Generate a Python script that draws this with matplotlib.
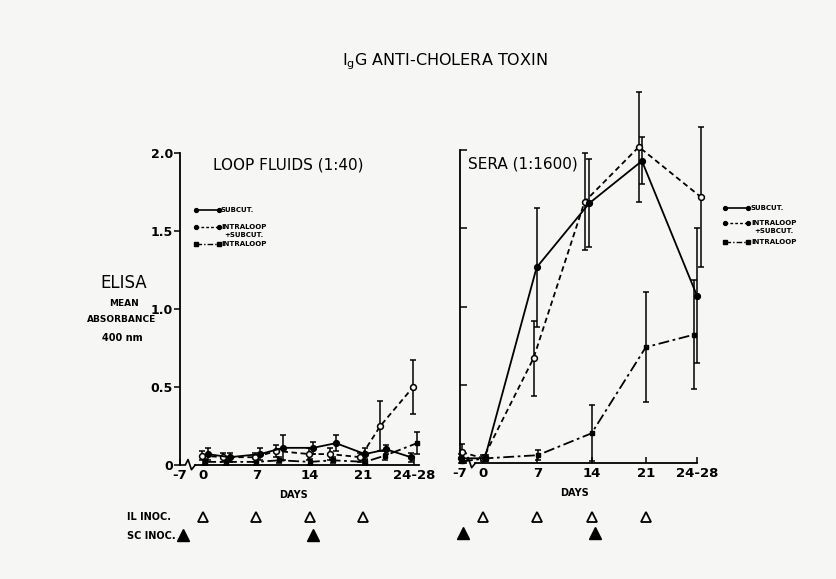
import numpy as np
import matplotlib
matplotlib.use("Agg")
import matplotlib.pyplot as plt
from matplotlib.lines import Line2D

plt.rcParams['font.family'] = ['DejaVu Sans']

# ---------------- data ----------------
tick_days = [-7, 0, 7, 14, 21, 27.6]
tick_labels = ["-7", "0", "7", "14", "21", "24-28"]
y_ticks = [0, 0.5, 1.0, 1.5, 2.0]
y_tick_labels = ["0", "0.5", "1.0", "1.5", "2.0"]

# Loop fluids (1:40)
loop_sc_days = [0.6, 3.5, 7.5, 10.5, 14.4, 17.4, 21.2, 24.0, 27.2]
loop_sc_vals = [0.07, 0.05, 0.07, 0.11, 0.11, 0.14, 0.07, 0.10, 0.05]
loop_sc_err = [0.04, 0.03, 0.04, 0.08, 0.04, 0.05, 0.04, 0.03, 0.03]

loop_ilsc_days = [-0.2, 2.6, 6.8, 9.6, 13.9, 16.6, 20.6, 23.2, 27.5]
loop_ilsc_vals = [0.06, 0.05, 0.05, 0.09, 0.07, 0.07, 0.05, 0.25, 0.50]
loop_ilsc_err = [0.03, 0.03, 0.03, 0.04, 0.04, 0.04, 0.03, 0.16, 0.17]

loop_il_days = [0.3, 3.0, 7.0, 10.0, 14.0, 17.0, 21.2, 23.8, 28.0]
loop_il_vals = [0.02, 0.02, 0.02, 0.03, 0.02, 0.03, 0.02, 0.06, 0.14]
loop_il_err = [0.02, 0.02, 0.02, 0.02, 0.02, 0.02, 0.02, 0.03, 0.07]

# Sera (1:1600)
sera_sc_days = [-6.6, 0.2, 6.9, 13.7, 20.5, 27.6]
sera_sc_vals = [0.03, 0.03, 1.25, 1.66, 1.93, 1.07]
sera_sc_err = [0.03, 0.02, 0.38, 0.28, 0.15, 0.43]

sera_ilsc_days = [-6.5, 0.0, 6.5, 13.1, 20.1, 28.1]
sera_ilsc_vals = [0.07, 0.03, 0.67, 1.67, 2.02, 1.70]
sera_ilsc_err = [0.05, 0.02, 0.24, 0.31, 0.35, 0.45]

sera_il_days = [-6.4, 0.4, 7.05, 14.0, 21.0, 27.2]
sera_il_vals = [0.01, 0.03, 0.05, 0.19, 0.74, 0.82]
sera_il_err = [0.01, 0.02, 0.03, 0.18, 0.35, 0.35]

il_inoc_days = [0, 7, 14, 21]
sc_inoc_days = [-7, 14]

BG = '#f6f6f4'
W, H = 837, 579


def xpos(d):
    d = np.asarray(d, dtype=float)
    return np.where(d < 0, -3 + (d + 7) * 3.0 / 7.0, d)


def fx(x):
    return x / W


def fy(y):
    return 1 - y / H


fig = plt.figure(figsize=(W / 100, H / 100), dpi=100, facecolor=BG)
ax1 = fig.add_axes([fx(180), (H - 465) / H, 237 / W, 312 / H])
ax2 = fig.add_axes([fx(460), (H - 463) / H, 240 / W, 313 / H])

styles = {
    'sc': dict(ls='-', marker='o', mfc='black', mec='black', ms=4.2),
    'ilsc': dict(ls=(0, (3, 2)), marker='o', mfc=BG, mec='black', ms=4.2, mew=1.1),
    'il': dict(ls=(0, (6, 2, 1.5, 2)), marker='s', mfc='black', mec='black', ms=3.2),
}


def draw_series(ax, days, vals, errs, key):
    st = styles[key]
    ax.errorbar(xpos(days), vals, yerr=errs, color='black', lw=1.3,
                capsize=2.2, elinewidth=1.1, capthick=1.1, clip_on=False,
                **st)


for ax in (ax1, ax2):
    ax.set_facecolor(BG)
    ax.set_xlim(-3, 28)
    ax.set_ylim(0, 2.0)
    for s in ('top', 'right'):
        ax.spines[s].set_visible(False)
    ax.spines['left'].set_linewidth(1.3)
    ax.spines['bottom'].set_linewidth(1.3)
    ax.spines['bottom'].set_bounds(-1.0, 27.6 if ax is ax2 else 28.3)
    ax.set_xticks(xpos(tick_days))
    ax.set_xticklabels(tick_labels, fontsize=9.5, fontweight='bold')
    ax.tick_params(axis='x', direction='in', length=4, width=1.1, pad=3)
    ax.set_yticks(y_ticks)
    # axis break (zigzag)
    ax.plot([-3, -2.3, -1.95, -1.5, -1.0], [0, 0, 0.035, -0.03, 0],
            color='black', lw=1.2, clip_on=False)
    ax.text(11.8, -0.095, "DAYS", transform=ax.get_xaxis_transform(),
            ha='center', va='center', fontsize=7, fontweight='bold')

ax1.set_yticklabels(y_tick_labels, fontsize=9, fontweight='bold')
ax1.tick_params(axis='y', direction='out', length=4, width=1.1, pad=1)
ax2.set_yticklabels([])
ax2.tick_params(axis='y', direction='in', length=5, width=1.1)

draw_series(ax1, loop_ilsc_days, loop_ilsc_vals, loop_ilsc_err, 'ilsc')
draw_series(ax1, loop_il_days, loop_il_vals, loop_il_err, 'il')
draw_series(ax1, loop_sc_days, loop_sc_vals, loop_sc_err, 'sc')

draw_series(ax2, sera_ilsc_days, sera_ilsc_vals, sera_ilsc_err, 'ilsc')
draw_series(ax2, sera_il_days, sera_il_vals, sera_il_err, 'il')
draw_series(ax2, sera_sc_days, sera_sc_vals, sera_sc_err, 'sc')

# inoculation markers
for ax, yil, ysc in ((ax1, -0.167, -0.225), (ax2, -0.172, -0.225)):
    trans = ax.get_xaxis_transform()
    ax.plot(xpos(il_inoc_days), [yil] * len(il_inoc_days), ls='none',
            marker='^', ms=7, mfc=BG, mec='black', mew=1.3,
            transform=trans, clip_on=False)
    ax.plot(xpos(sc_inoc_days) + 0.4, [ysc] * len(sc_inoc_days), ls='none',
            marker='^', ms=8, mfc='black', mec='black',
            transform=trans, clip_on=False)

fig.text(fx(127), fy(517), "IL INOC.", fontsize=7, fontweight='bold',
         ha='left', va='center')
fig.text(fx(127), fy(536), "SC INOC.", fontsize=7, fontweight='bold',
         ha='left', va='center')

# titles
fig.text(fx(445), fy(62), r"I$_\mathregular{g}$G ANTI-CHOLERA TOXIN",
         fontsize=11.5, ha='center', va='center')
fig.text(fx(213), fy(165), "LOOP FLUIDS (1:40)", fontsize=11,
         ha='left', va='center')
fig.text(fx(468), fy(164), "SERA (1:1600)", fontsize=11,
         ha='left', va='center')

# y label block
fig.text(fx(124), fy(283), "ELISA", fontsize=12, ha='center', va='center')
fig.text(fx(124), fy(303), "MEAN", fontsize=6.5, fontweight='bold',
         ha='center', va='center')
fig.text(fx(122), fy(320), "ABSORBANCE", fontsize=6.5, fontweight='bold',
         ha='center', va='center')
fig.text(fx(122), fy(338), "400 nm", fontsize=7, fontweight='bold',
         ha='center', va='center')


# custom legends
def legend_block(x0, x1, ys, tx):
    y_sc, y_ilsc, y_plus, y_il = ys
    fig.add_artist(Line2D([fx(x0), fx(x1)], [fy(y_sc)] * 2,
                          transform=fig.transFigure, color='black', lw=1.2,
                          ls='-', marker='o', ms=2.8))
    fig.add_artist(Line2D([fx(x0), fx(x1)], [fy(y_ilsc)] * 2,
                          transform=fig.transFigure, color='black', lw=1.0,
                          ls=(0, (2, 1.5)), marker='o', ms=2.8))
    fig.add_artist(Line2D([fx(x0), fx(x1)], [fy(y_il)] * 2,
                          transform=fig.transFigure, color='black', lw=1.0,
                          ls=(0, (4, 1.5, 1, 1.5)), marker='s', ms=2.3))
    kw = dict(fontsize=5, fontweight='bold', va='center', ha='left')
    fig.text(fx(tx), fy(y_sc), "SUBCUT.", **kw)
    fig.text(fx(tx), fy(y_ilsc), "INTRALOOP", **kw)
    fig.text(fx(tx + 3), fy(y_plus), "+SUBCUT.", **kw)
    fig.text(fx(tx), fy(y_il), "INTRALOOP", **kw)


legend_block(196, 219, (210, 227, 235, 244), 221)
legend_block(725, 748, (208, 223, 231, 242), 751)

fig.savefig("out.png", dpi=100, facecolor=BG)
